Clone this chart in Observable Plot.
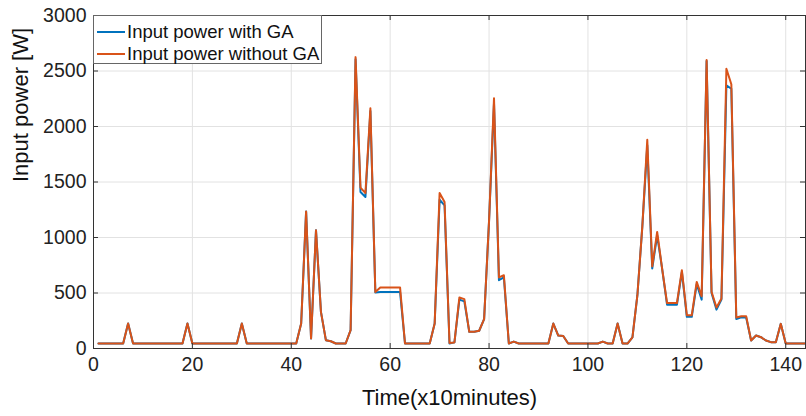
<!DOCTYPE html>
<html>
<head>
<meta charset="utf-8">
<script src="https://cdn.jsdelivr.net/npm/d3@7"></script>
<script src="https://cdn.jsdelivr.net/npm/@observablehq/plot@0.6"></script>
<style>
  html, body { margin: 0; padding: 0; background: #fff; }
  #wrap { position: relative; width: 806px; height: 416px; }
  #legend {
    position: absolute; left: 93px; top: 15px; width: 229px; height: 49px;
    border: 1px solid #666; background: #fff; box-sizing: border-box;
    font-family: "Liberation Sans", Arial, sans-serif; font-size: 18.5px; color: #111;
    padding-top: 5px;
  }
  #legend .row { display: flex; align-items: center; height: 22px; line-height: 22px; }
  #legend .sw { width: 28px; height: 2px; margin-left: 3px; margin-right: 2px; }
</style>
</head>
<body>
<div id="wrap"></div>
<script>
// Time index (x10 minutes): value i belongs to time i+1
const withGA = [
  45,45,45,45,45,45,225,45,45,45,45,45,
  45,45,45,45,45,45,225,45,45,45,45,45,
  45,45,45,45,45,225,45,45,45,45,45,45,
  45,45,45,45,45,225,1235,90,1065,330,75,65,
  45,45,45,165,2605,1410,1365,2140,505,510,510,510,
  510,510,45,45,45,45,45,45,225,1340,1290,45,
  55,440,425,150,150,160,265,1150,2210,615,640,45,
  62,45,45,45,45,45,45,45,225,117,112,45,
  45,45,45,45,45,45,62,45,45,225,45,45,
  100,480,1100,1830,720,1020,720,395,395,395,690,285,
  285,580,440,2590,500,350,440,2370,2340,265,280,280,
  72,117,102,72,57,57,222,45,45,45,45,45
];
const withoutGA = [
  45,45,45,45,45,45,225,45,45,45,45,45,
  45,45,45,45,45,45,225,45,45,45,45,45,
  45,45,45,45,45,225,45,45,45,45,45,45,
  45,45,45,45,45,225,1235,90,1065,330,75,65,
  45,45,45,165,2625,1450,1400,2165,510,550,550,550,
  550,550,45,45,45,45,45,45,225,1400,1320,50,
  55,460,445,150,150,160,265,1150,2255,640,660,45,
  62,45,45,45,45,45,45,45,225,117,112,45,
  45,45,45,45,45,45,62,45,45,225,45,45,
  100,480,1100,1880,740,1050,720,410,410,410,705,300,
  300,600,470,2600,510,370,450,2520,2380,280,290,290,
  72,117,102,72,57,57,222,45,45,45,45,45
];
const seriesNames = ["Input power with GA", "Input power without GA"];
const seriesColors = ["#0072BD", "#D95319"];
const xTicks = [0, 20, 40, 60, 80, 100, 120, 140];
const yTicks = [0, 500, 1000, 1500, 2000, 2500, 3000];
const xLabel = "Time(x10minutes)";
const yLabel = "Input power [W]";

const rowsA = withGA.map((v, i) => ({t: i + 1, v}));
const rowsB = withoutGA.map((v, i) => ({t: i + 1, v}));

const axisColor = "#333";
const chart = Plot.plot({
  width: 806, height: 416,
  marginLeft: 93, marginRight: 1, marginTop: 15, marginBottom: 68,
  style: {fontFamily: "'Liberation Sans', Arial, sans-serif", fontSize: "19.5px", color: "#222", background: "#fff", overflow: "visible"},
  x: {domain: [0, 144]},
  y: {domain: [0, 3000]},
  marks: [
    Plot.gridX(xTicks, {stroke: "#e2e2e2", strokeOpacity: 1}),
    Plot.gridY(yTicks, {stroke: "#e2e2e2", strokeOpacity: 1}),
    Plot.line(rowsA, {x: "t", y: "v", stroke: seriesColors[0], strokeWidth: 2}),
    Plot.line(rowsB, {x: "t", y: "v", stroke: seriesColors[1], strokeWidth: 2}),
    Plot.tickX(xTicks, {x: d => d, insetTop: 328, stroke: axisColor}),
    Plot.tickX(xTicks, {x: d => d, insetBottom: 328, stroke: axisColor}),
    Plot.tickY(yTicks, {y: d => d, insetRight: 707, stroke: axisColor}),
    Plot.tickY(yTicks, {y: d => d, insetLeft: 707, stroke: axisColor}),
    Plot.frame({stroke: axisColor}),
    Plot.axisX(xTicks, {tickSize: 0, tickPadding: 9, tickFormat: "d", label: null}),
    Plot.axisY(yTicks, {tickSize: 0, tickPadding: 7, tickFormat: "d", label: null}),
    Plot.text([xLabel], {text: d => d, frameAnchor: "bottom", dy: 49, lineAnchor: "middle", fontSize: 22, fill: "#111"}),
    Plot.text([yLabel], {text: d => d, frameAnchor: "left", dx: -73, rotate: -90, lineAnchor: "middle", fontSize: 22, fill: "#111"})
  ]
});

const wrap = document.getElementById("wrap");
wrap.appendChild(chart);

const legend = document.createElement("div");
legend.id = "legend";
seriesNames.forEach((name, i) => {
  const row = document.createElement("div");
  row.className = "row";
  const sw = document.createElement("span");
  sw.className = "sw";
  sw.style.background = seriesColors[i];
  const label = document.createElement("span");
  label.textContent = name;
  row.appendChild(sw);
  row.appendChild(label);
  legend.appendChild(row);
});
wrap.appendChild(legend);
</script>
</body>
</html>
